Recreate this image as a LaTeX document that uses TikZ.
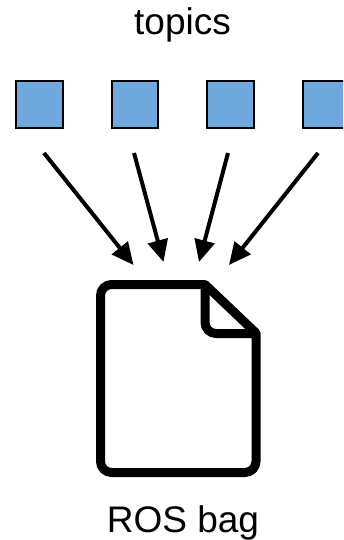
\documentclass[tikz,border=0pt]{standalone}
\usepackage{fontspec}
\setmainfont{Liberation Sans}
\usetikzlibrary{arrows.meta}
\definecolor{topicblue}{HTML}{6FA8DC}
\tikzset{
  topicbox/.style={draw=black,fill=topicblue,line width=1.6pt,minimum size=46.5pt,inner sep=0pt,outer sep=0pt},
  flow/.style={line width=4pt,-{Triangle[length=22pt,width=20pt]}},
  label/.style={inner sep=0pt,font=\fontsize{37pt}{37pt}\selectfont,anchor=base},
  docline/.style={line width=9pt,line join=round,draw=black}
}
\begin{document}
\begin{tikzpicture}[x=1pt,y=-1pt]
\useasboundingbox (0,0) rectangle (343,540);
\clip (0,0) rectangle (343,540);
\node[label] (topics) at (182.5,35) {topics};
\node[label] (bag) at (183,532) {ROS bag};
\node[topicbox] (s1) at (39.5,104.5) {};
\node[topicbox] (s2) at (135,104.5) {};
\node[topicbox] (s3) at (230.5,104.5) {};
\node[topicbox] (s4) at (326,104.5) {};
\coordinate (a1) at (44,153);
\coordinate (a2) at (134,153);
\coordinate (a3) at (228,153);
\coordinate (a4) at (318,153);
\coordinate (b1) at (133.5,265);
\coordinate (b2) at (163.5,262);
\coordinate (b3) at (199,262);
\coordinate (b4) at (229,265);
\draw[flow] (a1) -- (b1);
\draw[flow] (a2) -- (b2);
\draw[flow] (a3) -- (b3);
\draw[flow] (a4) -- (b4);
\draw[docline] (205,284.5) -- (256,333)
  {[rounded corners=11pt] -- (256,472.5) -- (100.5,472.5) -- (100.5,284.5)} -- (205,284.5) -- cycle;
\draw[docline] (205,284.5) {[rounded corners=11pt] -- (205,333.5)} -- (256,333.5);
\end{tikzpicture}
\end{document}
